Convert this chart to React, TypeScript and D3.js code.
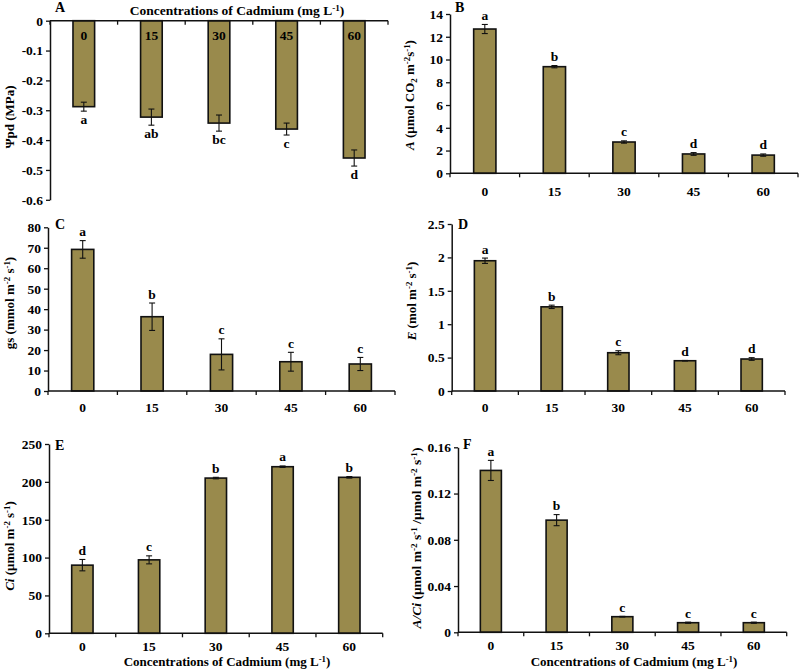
import { useEffect, useRef } from 'react'
import * as d3 from 'd3'

// Cadmium concentrations (mg L-1)
const CONC = ['0', '15', '30', '45', '60']

// A: predawn leaf water potential (MPa)
const PSI_PD = [-0.288, -0.323, -0.343, -0.363, -0.46]
const PSI_PD_SE = [0.015, 0.027, 0.027, 0.02, 0.027]
const PSI_PD_LETTERS = ['a', 'ab', 'bc', 'c', 'd']
const PSI_PD_TICKS = [0, -0.1, -0.2, -0.3, -0.4, -0.5, -0.6]

// B: net photosynthesis
const NET_A = [12.68, 9.37, 2.75, 1.7, 1.6]
const NET_A_SE = [0.4, 0.1, 0.1, 0.12, 0.1]
const NET_A_LETTERS = ['a', 'b', 'c', 'd', 'd']
const NET_A_TICKS = [0, 2, 4, 6, 8, 10, 12, 14]

// C: stomatal conductance
const GS = [69.2, 36.3, 17.9, 14.3, 13.2]
const GS_SE = [4.3, 6.7, 7.6, 4.6, 3.2]
const GS_LETTERS = ['a', 'b', 'c', 'c', 'c']
const GS_TICKS = [0, 10, 20, 30, 40, 50, 60, 70, 80]

// D: transpiration
const TRANSP = [1.95, 1.26, 0.573, 0.453, 0.479]
const TRANSP_SE = [0.04, 0.025, 0.03, 0.004, 0.02]
const TRANSP_LETTERS = ['a', 'b', 'c', 'd', 'd']
const TRANSP_TICKS = [0, 0.5, 1, 1.5, 2, 2.5]

// E: intercellular CO2
const CI = [90, 97, 205, 220, 206]
const CI_SE = [7.5, 5.3, 1, 1, 1]
const CI_LETTERS = ['d', 'c', 'b', 'a', 'b']
const CI_TICKS = [0, 50, 100, 150, 200, 250]

// F: A/Ci
const A_CI = [0.14, 0.097, 0.0135, 0.0083, 0.0083]
const A_CI_SE = [0.0087, 0.0048, 0.0003, 0.0005, 0.0005]
const A_CI_LETTERS = ['a', 'b', 'c', 'c', 'c']
const A_CI_TICKS = [0, 0.04, 0.08, 0.12, 0.16]

const FONT = "'Liberation Serif', 'Times New Roman', serif"
const BAR = '#998a4c'

type Part = { t: string; it?: boolean; sup?: boolean; sub?: boolean }

const XTITLE: Part[] = [{ t: 'Concentrations of Cadmium (mg L' }, { t: '-1', sup: true }, { t: ')' }]

const PANELS = [
  {
    id: 'A', values: PSI_PD, se: PSI_PD_SE, letters: PSI_PD_LETTERS, ticks: PSI_PD_TICKS,
    domain: [-0.6, 0], left: 50, right: 388, yLo: 199.8, yHi: 20.7,
    tag: [55, 12], labelPos: [14, 117], inside: true,
    ylabel: [{ t: 'Ψpd (MPa)' }],
    title: [237, 15], titleSize: 13.5,
  },
  {
    id: 'B', values: NET_A, se: NET_A_SE, letters: NET_A_LETTERS, ticks: NET_A_TICKS,
    domain: [0, 14], left: 450, right: 798, yLo: 173.3, yHi: 14,
    tag: [455, 11.5], labelPos: [414, 95], xOff: 23,
    ylabel: [{ t: 'A', it: true }, { t: ' (μmol CO' }, { t: '2', sub: true }, { t: ' m' }, { t: '-2', sup: true }, { t: 's' }, { t: '-1', sup: true }, { t: ')' }],
  },
  {
    id: 'C', values: GS, se: GS_SE, letters: GS_LETTERS, ticks: GS_TICKS,
    domain: [0, 80], left: 48, right: 395, yLo: 391, yHi: 227.3,
    tag: [55, 228.5], labelPos: [14, 303], xOff: 20.5,
    ylabel: [{ t: 'gs' }, { t: ' (mmol m' }, { t: '-2', sup: true }, { t: ' s' }, { t: '-1', sup: true }, { t: ')' }],
  },
  {
    id: 'D', values: TRANSP, se: TRANSP_SE, letters: TRANSP_LETTERS, ticks: TRANSP_TICKS,
    domain: [0, 2.5], left: 451.7, right: 785, yLo: 391, yHi: 224,
    tag: [458, 229], labelPos: [416, 301], xOff: 20.5,
    ylabel: [{ t: 'E', it: true }, { t: ' (mol m' }, { t: '-2', sup: true }, { t: ' s' }, { t: '-1', sup: true }, { t: ')' }],
  },
  {
    id: 'E', values: CI, se: CI_SE, letters: CI_LETTERS, ticks: CI_TICKS,
    domain: [0, 250], left: 49, right: 382.7, yLo: 633.3, yHi: 444,
    tag: [55, 450], labelPos: [14, 546], xOff: 17.5,
    ylabel: [{ t: 'Ci', it: true }, { t: ' (μmol m' }, { t: '-2', sup: true }, { t: ' s' }, { t: '-1', sup: true }, { t: ')' }],
    title: [227, 666], titleSize: 13,
  },
  {
    id: 'F', values: A_CI, se: A_CI_SE, letters: A_CI_LETTERS, ticks: A_CI_TICKS,
    domain: [0, 0.16], left: 458, right: 786.7, yLo: 632.3, yHi: 447.3,
    tag: [463, 449], labelPos: [421, 538], xOff: 18,
    ylabel: [{ t: 'A/Ci', it: true }, { t: ' (μmol m' }, { t: '-2', sup: true }, { t: ' s' }, { t: '-1', sup: true }, { t: ' /μmol m' }, { t: '-2', sup: true }, { t: ' s' }, { t: '-1', sup: true }, { t: ')' }],
    title: [634, 666], titleSize: 13,
  },
]

function rich(sel: any, parts: Part[], size: number) {
  let shift = 0
  parts.forEach(p => {
    const target = p.sup ? -4.5 : p.sub ? 3 : 0
    sel.append('tspan')
      .attr('dy', target - shift)
      .attr('font-size', p.sup || p.sub ? size * 0.68 : size)
      .attr('font-style', p.it ? 'italic' : 'normal')
      .text(p.t)
    shift = target
  })
}

export default function App() {
  const svgRef = useRef<SVGSVGElement>(null)

  useEffect(() => {
    if (!svgRef.current) return
    const svg = d3.select(svgRef.current)
    svg.selectAll('*').remove()

    PANELS.forEach((p: any) => {
      const g = svg.append('g').attr('font-family', FONT).attr('font-weight', 'bold').attr('fill', '#000')

      const x = d3.scaleBand().domain(CONC).range([p.left, p.right]).padding(0)
      const y = d3.scaleLinear().domain(p.domain).range([p.yLo, p.yHi])
      const y0 = y(0)
      const bw = x.bandwidth() * 0.32
      const cx = (c: string) => (x(c) as number) + x.bandwidth() / 2

      // Bars
      g.selectAll('.bar')
        .data(p.values as number[])
        .enter().append('rect')
        .attr('x', (_, i) => cx(CONC[i]) - bw / 2)
        .attr('width', bw)
        .attr('y', d => Math.min(y(d), y0))
        .attr('height', d => Math.abs(y(d) - y0))
        .attr('fill', BAR)
        .attr('stroke', '#111')
        .attr('stroke-width', 1.6)

      // Error bars + letters
      p.values.forEach((v: number, i: number) => {
        const xc = cx(CONC[i])
        const e = p.se[i]
        const y1 = y(v - e), y2 = y(v + e)
        g.append('line').attr('x1', xc).attr('x2', xc).attr('y1', y1).attr('y2', y2)
          .attr('stroke', '#111').attr('stroke-width', 1.1)
        ;[y1, y2].forEach(yy => {
          g.append('line').attr('x1', xc - 3).attr('x2', xc + 3).attr('y1', yy).attr('y2', yy)
            .attr('stroke', '#111').attr('stroke-width', 1.1)
        })
        const ly = v < 0 ? y(v - e) + 13 : y(v + e) - 4.5
        g.append('text').attr('x', xc).attr('y', ly)
          .attr('text-anchor', 'middle').attr('font-size', 13.5)
          .text(p.letters[i])
      })

      // X axis line + boundary ticks
      g.append('line').attr('x1', p.left).attr('x2', p.right).attr('y1', y0).attr('y2', y0)
        .attr('stroke', '#111').attr('stroke-width', 1.5)
      const bounds = CONC.map(c => x(c) as number).concat([p.right])
      bounds.forEach(bx => {
        g.append('line').attr('x1', bx).attr('x2', bx).attr('y1', y0).attr('y2', y0 + 4)
          .attr('stroke', '#111').attr('stroke-width', 1.3)
      })

      // X tick labels (inside the bars for panel A)
      CONC.forEach(c => {
        g.append('text')
          .attr('x', cx(c))
          .attr('y', p.inside ? y0 + 19.5 : y0 + p.xOff)
          .attr('text-anchor', 'middle').attr('font-size', 13.5)
          .text(c)
      })

      // Y axis
      g.append('g')
        .attr('transform', `translate(${p.left},0)`)
        .call(d3.axisLeft(y).tickValues(p.ticks).tickSize(4).tickSizeOuter(0).tickPadding(3).tickFormat((d: any) => String(d)))
        .call(ax => ax.select('.domain').attr('stroke', '#111').attr('stroke-width', 1.5))
        .call(ax => ax.selectAll('.tick line').attr('stroke', '#111').attr('stroke-width', 1.3))
        .call(ax => ax.selectAll('text')
          .attr('fill', '#000').attr('font-family', FONT).attr('font-weight', 'bold').attr('font-size', 13.5))

      // Panel tag
      g.append('text').attr('x', p.tag[0]).attr('y', p.tag[1]).attr('font-size', 14).text(p.id)

      // Y label
      const yl = g.append('text')
        .attr('transform', `translate(${p.labelPos[0]},${p.labelPos[1]}) rotate(-90)`)
        .attr('text-anchor', 'middle')
      rich(yl, p.ylabel, p.id === 'F' ? 13.5 : 13)

      // X title
      if (p.title) {
        const t = g.append('text').attr('x', p.title[0]).attr('y', p.title[1]).attr('text-anchor', 'middle')
        rich(t, XTITLE, p.titleSize)
      }
    })
  }, [])

  return (
    <svg
      ref={svgRef}
      width={800}
      height={669}
      style={{ position: 'absolute', left: 0, top: 0, background: '#fff', display: 'block' }}
    />
  )
}
